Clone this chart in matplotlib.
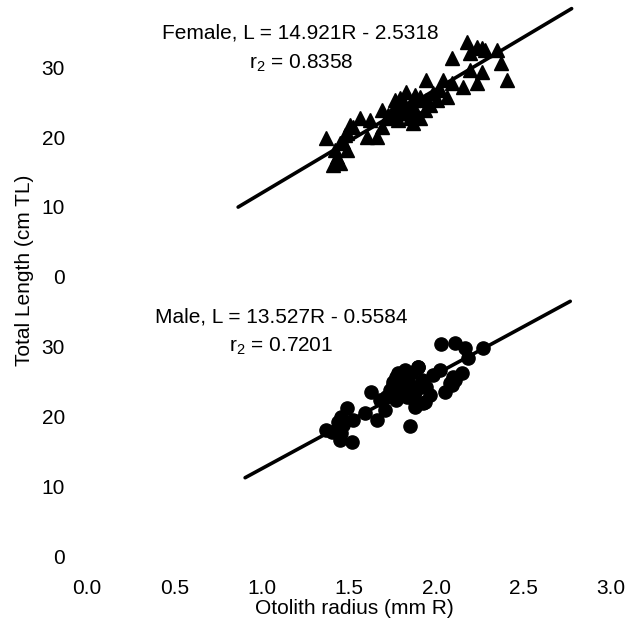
import matplotlib
matplotlib.use("Agg")
import numpy as np
import matplotlib.pyplot as plt
from matplotlib.transforms import ScaledTranslation

plt.rcParams['font.family'] = ['Liberation Sans', 'DejaVu Sans']
plt.rcParams['font.size'] = 15
plt.rcParams['mathtext.fontset'] = 'custom'
plt.rcParams['mathtext.rm'] = 'Liberation Sans'
plt.rcParams['mathtext.default'] = 'regular'

# Female: otolith radius (mm) vs total length (cm)
female_r = [2.174, 2.231, 2.260, 2.279, 2.192, 2.088, 2.346, 2.374, 2.403, 2.192,
            2.260, 2.231, 2.154, 2.088, 2.040, 1.944, 2.059, 2.002, 1.829, 1.791,
            1.772, 1.868, 1.887, 1.906, 1.868, 1.829, 1.944, 1.687, 1.687, 1.620,
            1.562, 1.524, 1.486, 1.601, 1.658, 1.371, 1.448, 1.486, 1.429, 1.409,
            1.448, 1.467, 1.716, 1.753, 1.791, 1.848, 1.906, 1.982, 2.020, 1.764,
            1.821, 1.878, 1.936, 1.781, 1.850, 1.965, 1.723, 1.420, 1.478, 1.506]
female_l = [34.14, 33.42, 33.19, 32.95, 32.47, 31.75, 32.95, 31.03, 28.64, 30.07,
            29.83, 28.16, 27.67, 28.16, 28.64, 28.64, 26.24, 25.76, 26.95, 26.01,
            24.80, 25.76, 24.08, 23.13, 22.41, 23.85, 25.76, 24.32, 21.93, 22.89,
            23.13, 21.93, 20.98, 20.49, 20.49, 20.26, 19.54, 18.58, 17.61, 16.42,
            16.67, 19.77, 23.13, 24.32, 23.85, 25.04, 26.24, 26.72, 27.20, 25.76,
            25.04, 26.48, 24.32, 22.89, 23.18, 25.04, 23.61, 18.58, 20.73, 22.17]

# Male
male_r = [2.030, 2.107, 2.164, 2.183, 2.269, 2.145, 2.097, 2.088, 2.021, 1.982,
          1.896, 1.849, 1.782, 1.753, 1.734, 1.715, 1.772, 1.830, 1.877, 1.925,
          1.877, 1.944, 1.629, 1.705, 1.658, 1.591, 1.486, 1.457, 1.524, 1.466,
          1.400, 1.448, 1.515, 1.849, 1.810, 1.916, 1.791, 1.849, 1.677, 1.371,
          1.772, 1.858, 1.821, 1.833, 1.896, 1.964, 2.050, 2.108, 2.079, 1.936,
          1.878, 1.897, 1.752, 1.455, 1.439]
male_l = [30.74, 30.89, 30.17, 28.74, 30.17, 26.60, 26.11, 24.93, 27.07, 26.36,
          27.54, 26.60, 26.60, 25.40, 24.21, 23.26, 22.79, 23.26, 22.54, 22.31,
          23.97, 24.69, 23.97, 21.36, 19.93, 20.89, 21.60, 20.40, 19.93, 19.21,
          18.26, 17.07, 16.83, 19.11, 25.17, 25.64, 23.97, 24.93, 22.79, 18.50,
          26.11, 26.60, 27.07, 25.93, 24.50, 23.50, 23.93, 25.64, 25.17, 22.50,
          21.83, 27.54, 24.93, 18.03, 19.60]

# regression lines, as given on the chart
female_fit = (14.921, -2.5318)
male_fit = (13.527, -0.5584)
female_span = [0.865, 2.776]
male_span = [0.905, 2.768]

female_label = "Female, L = 14.921R - 2.5318"
female_r2 = "r$_2$ = 0.8358"
male_label = "Male, L = 13.527R - 0.5584"
male_r2 = "r$_2$ = 0.7201"

fig = plt.figure(figsize=(6.3, 6.25), dpi=100)
ax_top = fig.add_axes([0.1384, 0.5531, 0.831, 0.4455])
ax_bot = fig.add_axes([0.1384, 0.1048, 0.831, 0.448])

# the y labels sit a few pixels above their ticks in the original
shift = ScaledTranslation(0, 0.03, fig.dpi_scale_trans)

for ax in (ax_top, ax_bot):
    ax.set_xlim(0, 3)
    ax.set_ylim(0, 40)
    ax.set_yticks([0, 10, 20, 30])
    ax.set_xticks([0, 0.5, 1.0, 1.5, 2.0, 2.5, 3.0])
    for s in ax.spines.values():
        s.set_visible(False)
    ax.tick_params(axis='y', length=0, pad=16, labelsize=15)
    ax.tick_params(axis='x', length=0, pad=14, labelsize=15)
    ax.patch.set_alpha(0)

ax_top.tick_params(labelbottom=False)
ax_bot.xaxis.set_major_formatter(plt.FormatStrFormatter('%.1f'))

for ax in (ax_top, ax_bot):
    for lab in ax.get_yticklabels():
        lab.set_transform(lab.get_transform() + shift)

# female panel
x = np.array(female_span)
ax_top.plot(x, female_fit[0] * x + female_fit[1], color='black', lw=2.6,
            solid_capstyle='round', clip_on=False)
ax_top.plot(female_r, female_l, '^', color='black', markersize=9.5, clip_on=False)
ax_top.text(1.224, 34.63, female_label, ha='center', va='baseline', fontsize=15)
ax_top.text(1.224, 30.3, female_r2, ha='center', va='baseline', fontsize=15)

# male panel
x = np.array(male_span)
ax_bot.plot(x, male_fit[0] * x + male_fit[1], color='black', lw=2.6,
            solid_capstyle='round', clip_on=False)
ax_bot.plot(male_r, male_l, 'o', color='black', markersize=9.5, clip_on=False)
ax_bot.text(1.110, 33.83, male_label, ha='center', va='baseline', fontsize=15)
ax_bot.text(1.110, 29.69, male_r2, ha='center', va='baseline', fontsize=15)

fig.text(0.562, 1 - 609 / 625, "Otolith radius (mm R)", ha='center', va='center', fontsize=15)
fig.text(24 / 630, 1 - 270 / 625, "Total Length (cm TL)", ha='center', va='center',
         rotation=90, fontsize=15)

fig.savefig("out.png", dpi=100)
